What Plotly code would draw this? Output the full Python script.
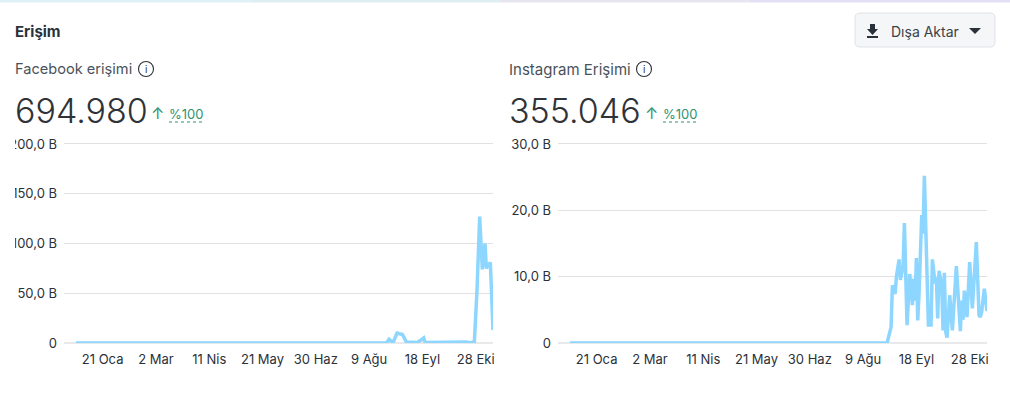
import plotly.graph_objects as go

W = 1010
H = 407

fb_dates = ["2022-01-01", "2022-08-22", "2022-08-24", "2022-08-27", "2022-08-30", "2022-09-03",
            "2022-09-06", "2022-09-14", "2022-09-17", "2022-09-19", "2022-09-20", "2022-10-07",
            "2022-10-09", "2022-10-21", "2022-10-23", "2022-10-27", "2022-10-29", "2022-10-31",
            "2022-11-02", "2022-11-04", "2022-11-05", "2022-11-08", "2022-11-10"]
fb_values = [0, 0, 3.7, 0.5, 10, 8.5, 1, 0.5, 3, 5, 0.5, 0.8, 0.2, 1, 0.2, 1, 53, 127, 74, 100, 75, 81, 13]

ig_dates = ["2022-01-01", "2022-08-27", "2022-08-30", "2022-08-31", "2022-09-02", "2022-09-03",
            "2022-09-05", "2022-09-06", "2022-09-08", "2022-09-09", "2022-09-11", "2022-09-13",
            "2022-09-15", "2022-09-16", "2022-09-17", "2022-09-18", "2022-09-19", "2022-09-20",
            "2022-09-22", "2022-09-23", "2022-09-24", "2022-09-26", "2022-09-27", "2022-09-29",
            "2022-09-30", "2022-10-02", "2022-10-03", "2022-10-04", "2022-10-05", "2022-10-07",
            "2022-10-08", "2022-10-09", "2022-10-10", "2022-10-11", "2022-10-13", "2022-10-15",
            "2022-10-18", "2022-10-21", "2022-10-22", "2022-10-23", "2022-10-24", "2022-10-26",
            "2022-10-28", "2022-10-30", "2022-11-02", "2022-11-04", "2022-11-05", "2022-11-06",
            "2022-11-08", "2022-11-10"]
ig_values = [0, 0, 2.4, 8.7, 7.4, 10, 12.6, 9.5, 11.5, 18.1, 2.7, 10.4, 5.7, 9.7, 6.4, 12.8, 3.4, 7.4,
             19.3, 16.5, 25.2, 12.5, 2.7, 2.7, 12.6, 9, 9.9, 3.7, 10.9, 8.7, 1.9, 10.6, 1.7, 0.8, 7.2, 1.9,
             11.6, 1.8, 6.4, 3.5, 7.9, 3.9, 12.2, 5.2, 15.2, 4.2, 3.9, 4.7, 8.2, 4.8]

tick_dates = ["2022-01-21", "2022-03-02", "2022-04-11", "2022-05-21", "2022-06-30",
              "2022-08-09", "2022-09-18", "2022-10-28"]
tick_labels = ["21 Oca", "2 Mar", "11 Nis", "21 May", "30 Haz", "9 Ağu", "18 Eyl", "28 Eki"]

fb_yticks = [0, 50, 100, 150, 200]
fb_ylabels = ["0", "50,0 B", "100,0 B", "150,0 B", "200,0 B"]
ig_yticks = [0, 10, 20, 30]
ig_ylabels = ["0", "10,0 B", "20,0 B", "30,0 B"]

LINE = "#8dd6ff"
GRID = "#dfe1e4"
FONT = "Inter"
DARK = "#2b3138"
GREEN = "#2f9273"


def px(x):
    return x / W


def py(y):
    return 1 - y / H


def label(x, y, text, size, color=DARK, anchor="left", weight=None):
    return dict(text=text, x=px(x), y=py(y), xref="paper", yref="paper", xanchor=anchor, yanchor="middle",
                showarrow=False, font=dict(family=FONT, size=size, color=color, weight=weight),
                borderpad=0, borderwidth=0)


def rect(x0, y0, x1, y1, fill, line=None, layer="above"):
    return dict(type="rect", xref="paper", yref="paper", x0=px(x0), x1=px(x1), y0=py(y0), y1=py(y1),
                fillcolor=fill, line=dict(color=line or fill, width=1 if line else 0), layer=layer)


def path(points, fill=None, line=None, width=1.5, dash=None):
    d = "M " + " L ".join(f"{px(a)} {py(b)}" for a, b in points)
    if fill:
        d += " Z"
    return dict(type="path", xref="paper", yref="paper", path=d, fillcolor=fill or "rgba(0,0,0,0)",
                line=dict(color=line or fill, width=width if line else 0, dash=dash))


def rounded(x0, y0, x1, y1, r, fill, line):
    d = (f"M {px(x0 + r)} {py(y0)} L {px(x1 - r)} {py(y0)} Q {px(x1)} {py(y0)} {px(x1)} {py(y0 + r)} "
         f"L {px(x1)} {py(y1 - r)} Q {px(x1)} {py(y1)} {px(x1 - r)} {py(y1)} "
         f"L {px(x0 + r)} {py(y1)} Q {px(x0)} {py(y1)} {px(x0)} {py(y1 - r)} "
         f"L {px(x0)} {py(y0 + r)} Q {px(x0)} {py(y0)} {px(x0 + r)} {py(y0)} Z")
    return dict(type="path", xref="paper", yref="paper", path=d, fillcolor=fill,
                line=dict(color=line, width=1), layer="below")


def info_icon(x, y):
    return dict(type="circle", xref="paper", yref="paper", x0=px(x - 7.5), x1=px(x + 7.5), y0=py(y - 7.5),
                y1=py(y + 7.5), line=dict(color=DARK, width=1.1))


fig = go.Figure()
fig.add_trace(go.Scatter(x=fb_dates, y=fb_values, mode="lines", xaxis="x", yaxis="y", hoverinfo="skip",
                         line=dict(color=LINE, width=3.5), cliponaxis=False))
fig.add_trace(go.Scatter(x=ig_dates, y=ig_values, mode="lines", xaxis="x2", yaxis="y2", hoverinfo="skip",
                         line=dict(color=LINE, width=3.5), cliponaxis=False))

xbase = dict(tickvals=tick_dates, ticktext=tick_labels, showgrid=False, zeroline=False, showline=False,
             ticks="", tickfont=dict(family=FONT, size=13, color=DARK), ticklabelstandoff=7, automargin=False)
ybase = dict(showgrid=True, gridcolor=GRID, gridwidth=1, zeroline=True, zerolinecolor="#e8e9eb", zerolinewidth=2,
             showline=False, ticks="", tickfont=dict(family=FONT, size=13, color=DARK), ticklabelstandoff=6,
             automargin=False)

fig.update_layout(
    width=W, height=H, margin=dict(l=0, r=0, t=0, b=0, pad=0, autoexpand=False),
    paper_bgcolor="white", plot_bgcolor="white", showlegend=False, font=dict(family=FONT),
    xaxis=dict(xbase, domain=[px(64), px(493)], range=["2021-12-23", "2022-11-10"], anchor="y"),
    yaxis=dict(ybase, domain=[py(343), py(141)], range=[0, 203], tickvals=fb_yticks, ticktext=fb_ylabels, anchor="x"),
    xaxis2=dict(xbase, domain=[px(558), px(987)], range=["2021-12-23", "2022-11-10"], anchor="y2"),
    yaxis2=dict(ybase, domain=[py(343), py(141)], range=[0, 30.45], tickvals=ig_yticks, ticktext=ig_ylabels, anchor="x2"),
)

fig.update_layout(
    annotations=[
        label(15, 31, "Erişim", 15, "#29323a", weight=700),
        label(15, 69, "Facebook erişimi", 14.6, "#4a5259"),
        label(509, 69, "Instagram Erişimi", 15, "#4a5259"),
        label(15, 110, "694.980", 34, "#2f3337", weight=300),
        label(509, 110, "355.046", 34, "#2f3337", weight=300),
        label(151, 113, "↑", 16, GREEN),
        label(645, 113, "↑", 16, GREEN),
        label(169, 114, "%100", 13, GREEN),
        label(663, 114, "%100", 13, GREEN),
        label(146, 69, "i", 10, DARK, anchor="center"),
        label(644, 69, "i", 10, DARK, anchor="center"),
        label(891, 31, "Dışa Aktar", 14, "#3a4249"),
    ],
    shapes=[
        # üst şerit ve soldan kesilen etiketler
        rect(0, 0, 250, 2.5, "#dff1f6"),
        rect(250, 0, 500, 2.5, "#dfeef0"),
        rect(500, 0, 750, 2.5, "#e6e6f0"),
        rect(750, 0, 1010, 2.5, "#e3dff5"),
        rect(0, 130, 15, 160, "white"),
        rect(0, 180, 15, 210, "white"),
        rect(0, 230, 15, 260, "white"),
        info_icon(146, 69),
        info_icon(644, 69),
        path([(169, 122), (204, 122)], line=GREEN, width=1, dash="dot"),
        path([(663, 122), (698, 122)], line=GREEN, width=1, dash="dot"),
        rounded(855, 13, 995, 47, 5, "#f5f6f8", "#dfe2e6"),
        # indirme simgesi
        path([(870, 24), (875, 24), (875, 29), (878, 29), (872.5, 35), (867, 29), (870, 29)], fill="#2b3138"),
        path([(867, 37), (878, 37)], line="#2b3138", width=2),
        # açılır ok
        path([(969, 28), (981, 28), (975, 34)], fill="#2b3138"),
    ],
)

fig.write_html("out.html", config={"displayModeBar": False}, post_script="document.body.style.margin='0';")
